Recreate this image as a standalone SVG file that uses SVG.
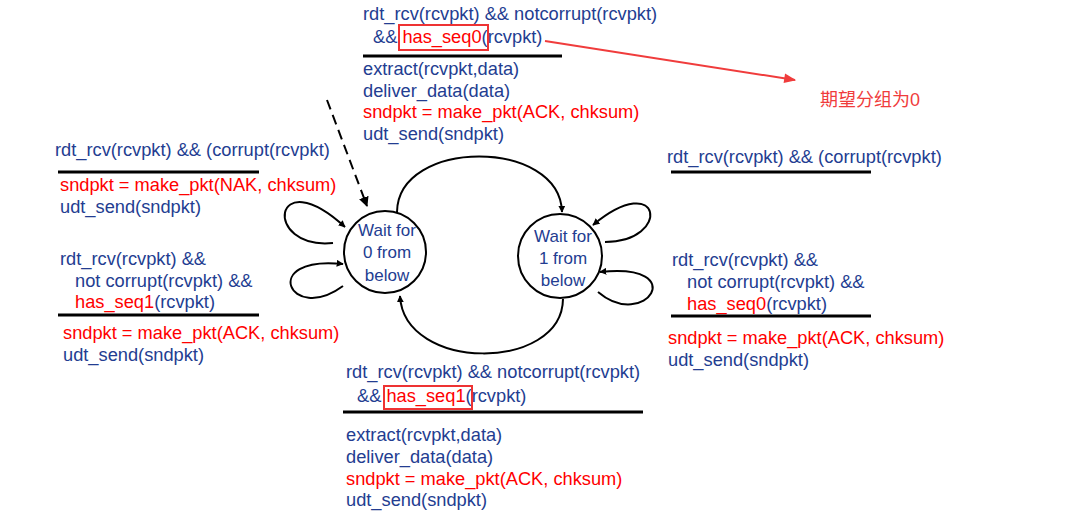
<svg xmlns="http://www.w3.org/2000/svg" width="1070" height="524" viewBox="0 0 1070 524">
<defs>
<style>
text{font-family:"Liberation Sans",Arial,"Noto Sans CJK SC",sans-serif;font-size:18.25px;fill:#233d91}
.r{fill:#ff0000}
.st{font-size:17px;text-anchor:middle}
.bar{stroke:#000;stroke-width:3}
.edge{fill:none;stroke:#000;stroke-width:2}
.box{fill:none;stroke:#ee3333;stroke-width:2}
.cn{fill:#f03c3c;font-size:18px}
</style>
<marker id="ah" viewBox="0 0 10 10" refX="9" refY="5" markerWidth="7" markerHeight="7" orient="auto" markerUnits="userSpaceOnUse">
<path d="M0,0 L10,5 L0,10 z" fill="#000"/>
</marker>
<marker id="ahd" viewBox="0 0 10 10" refX="9" refY="5" markerWidth="10" markerHeight="10" orient="auto" markerUnits="userSpaceOnUse">
<path d="M0,0 L10,5 L0,10 z" fill="#000"/>
</marker>
<marker id="ahr" viewBox="0 0 10 10" refX="9" refY="5" markerWidth="16" markerHeight="12" orient="auto" markerUnits="userSpaceOnUse">
<path d="M0,1 L10,5 L0,9 z" fill="#f03c3c"/>
</marker>
</defs>
<rect width="1070" height="524" fill="#fff"/>

<g id="connectors">
<path class="edge" d="M327,100 L367,206" stroke-dasharray="10,6" stroke-width="3" marker-end="url(#ahd)"/>
<path class="edge" d="M397,212 C398,138 560,138 562,212" marker-end="url(#ah)"/>
<path class="edge" d="M563,299 C562,372 404,372 400,296" marker-end="url(#ah)"/>
<path class="edge" d="M333,243 C262,250 272,160 345,227" marker-end="url(#ah)"/>
<path class="edge" d="M343,286 C290,325 258,255 343,264" marker-end="url(#ah)"/>
<path class="edge" d="M605,242 C672,242 662,168 593,225" marker-end="url(#ah)"/>
<path class="edge" d="M598,292 C645,332 692,262 600,272" marker-end="url(#ah)"/>
<path d="M545,41 L795,80" stroke="#f03c3c" stroke-width="2" fill="none" marker-end="url(#ahr)"/>
</g>

<g id="state0">
<circle cx="385" cy="252" r="41" fill="#fff" stroke="#000" stroke-width="2"/>
<text class="st" x="387" y="236">Wait for</text>
<text class="st" x="387" y="258">0 from</text>
<text class="st" x="387" y="281">below</text>
</g>

<g id="state1">
<circle cx="560" cy="256" r="42" fill="#fff" stroke="#000" stroke-width="2"/>
<text class="st" x="563" y="242">Wait for</text>
<text class="st" x="563" y="264">1 from</text>
<text class="st" x="563" y="286">below</text>
</g>

<g id="label-top">
<text x="363" y="20">rdt_rcv(rcvpkt) &amp;&amp; notcorrupt(rcvpkt)</text>
<text x="373" y="43">&amp;&amp; <tspan class="r">has_seq0</tspan>(rcvpkt)</text>
<rect class="box" x="399" y="25" width="89" height="25"/>
<line class="bar" x1="363" y1="56" x2="562" y2="56"/>
<text x="363" y="75">extract(rcvpkt,data)</text>
<text x="363" y="97">deliver_data(data)</text>
<text x="363" y="118" class="r">sndpkt = make_pkt(ACK, chksum)</text>
<text x="363" y="140">udt_send(sndpkt)</text>
</g>

<g id="note">
<text x="820" y="106" class="cn">期望分组为0</text>
</g>

<g id="label-left-corrupt">
<text x="55" y="156">rdt_rcv(rcvpkt) &amp;&amp; (corrupt(rcvpkt)</text>
<line class="bar" x1="58" y1="172" x2="259" y2="172"/>
<text x="60" y="191" class="r">sndpkt = make_pkt(NAK, chksum)</text>
<text x="60" y="213">udt_send(sndpkt)</text>
</g>

<g id="label-left-seq1">
<text x="60" y="265">rdt_rcv(rcvpkt) &amp;&amp;</text>
<text x="75" y="287">not corrupt(rcvpkt) &amp;&amp;</text>
<text x="75" y="308"><tspan class="r">has_seq1</tspan>(rcvpkt)</text>
<line class="bar" x1="58" y1="315" x2="259" y2="315"/>
<text x="63" y="339" class="r">sndpkt = make_pkt(ACK, chksum)</text>
<text x="63" y="361">udt_send(sndpkt)</text>
</g>

<g id="label-right-corrupt">
<text x="667" y="163">rdt_rcv(rcvpkt) &amp;&amp; (corrupt(rcvpkt)</text>
<line class="bar" x1="671" y1="172" x2="871" y2="172"/>
</g>

<g id="label-right-seq0">
<text x="672" y="266">rdt_rcv(rcvpkt) &amp;&amp;</text>
<text x="687" y="288">not corrupt(rcvpkt) &amp;&amp;</text>
<text x="687" y="310"><tspan class="r">has_seq0</tspan>(rcvpkt)</text>
<line class="bar" x1="671" y1="316" x2="871" y2="316"/>
<text x="668" y="344" class="r">sndpkt = make_pkt(ACK, chksum)</text>
<text x="668" y="366">udt_send(sndpkt)</text>
</g>

<g id="label-bottom">
<text x="346" y="378">rdt_rcv(rcvpkt) &amp;&amp; notcorrupt(rcvpkt)</text>
<text x="357" y="402">&amp;&amp; <tspan class="r">has_seq1</tspan>(rcvpkt)</text>
<rect class="box" x="384" y="386" width="88" height="23"/>
<line class="bar" x1="343" y1="412" x2="643" y2="412"/>
<text x="346" y="441">extract(rcvpkt,data)</text>
<text x="346" y="463">deliver_data(data)</text>
<text x="346" y="485" class="r">sndpkt = make_pkt(ACK, chksum)</text>
<text x="346" y="506">udt_send(sndpkt)</text>
</g>
</svg>
